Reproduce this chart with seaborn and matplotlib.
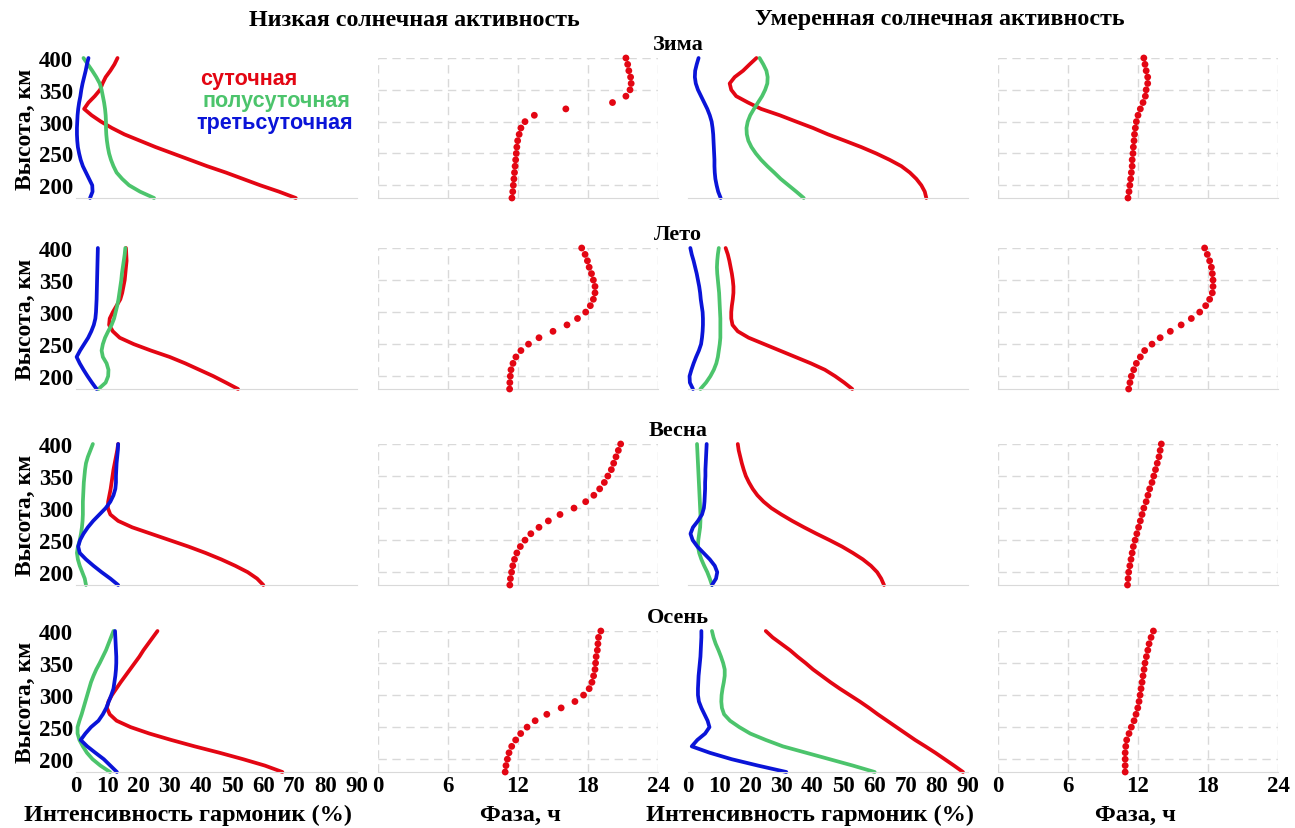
import pandas as pd
import seaborn as sns
import matplotlib.pyplot as plt

# высоты, км (шаг 10 км)
heights = list(range(180, 410, 10))

# ЗИМА - низкая активность
zima_low_sut = [70.4, 65, 59, 53.5, 48, 42, 36.5, 31, 25.5, 20.5, 15.5, 11.5, 8, 5, 2.6, 4, 6, 7.7, 8.5, 9.5, 11, 12.3, 13.3]
zima_low_polu = [25, 20.5, 17, 14.8, 13, 12, 11.2, 10.6, 10.2, 9.9, 9.7, 9.6, 9.6, 9.5, 9.3, 9, 8.6, 8.2, 7.6, 6.5, 5.2, 3.8, 2.4]
zima_low_tret = [4.5, 5.3, 5.2, 4.2, 3.2, 2.2, 1.5, 1, 0.6, 0.4, 0.3, 0.3, 0.4, 0.5, 0.7, 1, 1.4, 1.7, 2.1, 2.6, 3.1, 3.5, 4]
zima_low_faza = [11.48, 11.55, 11.6, 11.65, 11.7, 11.75, 11.8, 11.85, 11.9, 11.97, 12.1, 12.25, 12.6, 13.4, 16.1, 20.1, 21.25, 21.6, 21.7, 21.65, 21.5, 21.4, 21.25]
# ЗИМА - умеренная активность
zima_mod_sut = [76.6, 76.1, 75, 73.4, 71.3, 68.6, 64.8, 60.5, 55.7, 50.4, 45, 40.2, 34.8, 29.5, 23.5, 19.3, 15.5, 13.9, 13.4, 15, 17.7, 19.8, 22]
zima_mod_polu = [37.2, 34.8, 32.3, 29.8, 27.7, 25.5, 23.5, 21.8, 20.4, 19.4, 18.9, 18.8, 19.2, 20, 21.2, 22.5, 23.8, 24.8, 25.5, 25.6, 25.2, 24.2, 23]
zima_mod_tret = [10.5, 9.7, 9.2, 8.8, 8.6, 8.5, 8.5, 8.4, 8.3, 8.2, 8.1, 7.9, 7.6, 7, 6.2, 5.2, 4.2, 3.2, 2.5, 2.2, 2.3, 2.8, 3.4]
zima_mod_faza = [11.14, 11.23, 11.3, 11.37, 11.43, 11.5, 11.5, 11.57, 11.6, 11.66, 11.7, 11.77, 11.86, 12, 12.2, 12.43, 12.63, 12.7, 12.83, 12.83, 12.7, 12.6, 12.5]

# ЛЕТО - низкая активность
leto_low_sut = [51.9, 48, 44, 39.5, 35, 30, 24, 18.5, 14, 11.8, 10.6, 10.8, 11.8, 13, 14.2, 14.8, 15.2, 15.6, 15.8, 16, 16.2, 16.1, 16]
leto_low_polu = [7.2, 9.5, 10.3, 10.4, 9.8, 8.6, 8.2, 8.6, 9.3, 10.3, 11.4, 12.2, 12.7, 13.2, 13.6, 13.9, 14.2, 14.5, 14.7, 15, 15.3, 15.6, 15.8]
leto_low_tret = [6.6, 5.1, 3.7, 2.4, 1.2, 0.2, 1.3, 2.6, 3.9, 4.9, 5.7, 6.2, 6.4, 6.5, 6.6, 6.65, 6.7, 6.75, 6.8, 6.85, 6.9, 6.95, 7]
leto_low_faza = [11.28, 11.3, 11.34, 11.4, 11.57, 11.82, 12.25, 12.9, 13.8, 15, 16.2, 17.1, 17.8, 18.2, 18.46, 18.6, 18.6, 18.46, 18.3, 18.1, 17.95, 17.75, 17.46]
# ЛЕТО - умеренная активность
leto_mod_sut = [52.8, 50.2, 47.3, 44, 39.5, 34.5, 29.5, 24.5, 19.5, 16, 14.3, 13.9, 13.9, 14.1, 14.4, 14.6, 14.6, 14.4, 14.1, 13.7, 13.3, 12.8, 12.1]
leto_mod_polu = [4, 5.8, 7.2, 8.3, 9.1, 9.6, 9.9, 10.2, 10.4, 10.4, 10.4, 10.4, 10.3, 10.2, 10.1, 10, 9.8, 9.6, 9.4, 9.3, 9.4, 9.6, 9.9]
leto_mod_tret = [1.6, 0.6, 0.5, 1.1, 1.8, 2.6, 3.5, 4.2, 4.5, 4.7, 4.8, 4.8, 4.7, 4.4, 4.1, 3.9, 3.6, 3.2, 2.8, 2.3, 1.8, 1.2, 0.75]
leto_mod_faza = [11.2, 11.31, 11.43, 11.63, 11.86, 12.2, 12.57, 13.2, 13.9, 14.77, 15.7, 16.57, 17.29, 17.8, 18.14, 18.37, 18.43, 18.43, 18.37, 18.29, 18.14, 17.94, 17.71]

# ВЕСНА - низкая активность
vesna_low_sut = [60, 58, 55, 51, 46.5, 41.5, 36, 30, 24, 18, 13.5, 11, 10.2, 10.3, 10.7, 11.1, 11.4, 11.7, 12, 12.4, 12.8, 13.2, 13.5]
vesna_low_polu = [3.2, 2.8, 2, 1.2, 0.6, 0.3, 0.6, 1.2, 1.6, 1.9, 2.1, 2.2, 2.2, 2.2, 2.3, 2.4, 2.5, 2.7, 2.9, 3.2, 3.8, 4.6, 5.4]
vesna_low_tret = [13.5, 11, 8.2, 5.6, 3.2, 1.2, 0.7, 1.3, 2.4, 3.8, 5.5, 7.5, 9.5, 11, 12, 12.6, 12.8, 12.8, 12.9, 13, 13.2, 13.4, 13.5]
vesna_low_faza = [11.3, 11.35, 11.45, 11.55, 11.7, 11.9, 12.2, 12.6, 13.1, 13.8, 14.6, 15.6, 16.8, 17.8, 18.5, 19, 19.4, 19.7, 20, 20.2, 20.4, 20.6, 20.8]
# ВЕСНА - умеренная активность
vesna_mod_sut = [63, 62.1, 60.8, 58.8, 56.2, 53, 49.5, 45.5, 41.3, 37.3, 33.5, 30, 26.8, 24.3, 22.3, 20.8, 19.6, 18.6, 17.9, 17.3, 16.8, 16.3, 16]
vesna_mod_polu = [7.7, 7, 6.2, 5.2, 4.3, 3.6, 3.2, 3.3, 3.6, 3.9, 4, 4, 3.9, 3.8, 3.7, 3.6, 3.5, 3.4, 3.3, 3.2, 3.1, 3, 2.9]
vesna_mod_tret = [7.7, 9, 9.4, 8.6, 7, 5, 3, 1.5, 0.8, 1.6, 3.2, 4.5, 5.1, 5.3, 5.4, 5.5, 5.5, 5.6, 5.6, 5.7, 5.8, 5.9, 6]
vesna_mod_faza = [11.1, 11.15, 11.2, 11.3, 11.4, 11.5, 11.6, 11.75, 11.9, 12.05, 12.2, 12.35, 12.5, 12.7, 12.85, 13, 13.2, 13.35, 13.5, 13.65, 13.8, 13.9, 14]

# ОСЕНЬ - низкая активность
osen_low_sut = [66.1, 60.5, 53.5, 46, 38, 30.5, 23.5, 17.5, 13, 10.8, 9.9, 10.4, 11.5, 12.9, 14.3, 15.8, 17.3, 18.8, 20.3, 21.6, 23.1, 24.6, 26.1]
osen_low_polu = [10.9, 7.8, 5.3, 3.5, 2.2, 1.1, 0.5, 0.5, 1.1, 1.8, 2.4, 3, 3.6, 4.2, 4.8, 5.6, 6.5, 7.6, 8.6, 9.6, 10.4, 11.2, 12]
osen_low_tret = [13.1, 11, 8.9, 6.2, 3.6, 1.5, 3, 4.8, 7.2, 8.6, 9.7, 10.5, 11.3, 12, 12.3, 12.6, 12.8, 12.9, 12.9, 12.8, 12.7, 12.6, 12.5]
osen_low_faza = [10.9, 10.97, 11.09, 11.23, 11.46, 11.8, 12.23, 12.78, 13.47, 14.47, 15.7, 16.88, 17.62, 18.1, 18.34, 18.48, 18.6, 18.65, 18.7, 18.8, 18.85, 18.9, 19.1]
# ОСЕНЬ - умеренная активность
osen_mod_sut = [88.4, 85.5, 82.5, 79.5, 76.3, 73, 70, 67, 64, 61, 58.2, 55.2, 52, 48.8, 45.8, 43, 40.2, 37.8, 35.2, 32.8, 30, 27.2, 25]
osen_mod_polu = [60, 53, 45.5, 38, 30.5, 25, 20, 16.5, 13.5, 11.6, 10.9, 10.7, 10.8, 11.1, 11.5, 11.8, 11.8, 11.3, 10.6, 9.8, 8.9, 8.2, 7.7]
osen_mod_tret = [31.6, 22.5, 14, 7, 1.2, 3, 5.5, 6.9, 6.3, 5.3, 4.3, 3.5, 3.2, 3.2, 3.3, 3.4, 3.6, 3.8, 4, 4.1, 4.2, 4.3, 4.3]
osen_mod_faza = [10.9, 10.9, 10.9, 10.9, 10.95, 11.03, 11.23, 11.43, 11.66, 11.83, 11.98, 12.09, 12.18, 12.26, 12.35, 12.43, 12.52, 12.6, 12.72, 12.84, 12.95, 13.12, 13.32]

seasons = ['Зима', 'Лето', 'Весна', 'Осень']
harmonic_names = ['суточная', 'полусуточная', 'третьсуточная']
harmonic_colors = ['#e30613', '#4cc46c', '#0a14d8']
int_ticks = [0, 10, 20, 30, 40, 50, 60, 70, 80, 90]
phase_ticks = [0, 6, 12, 18, 24]
h_ticks = [200, 250, 300, 350, 400]

rows = [
    (zima_low_sut, zima_low_polu, zima_low_tret, zima_low_faza,
     zima_mod_sut, zima_mod_polu, zima_mod_tret, zima_mod_faza),
    (leto_low_sut, leto_low_polu, leto_low_tret, leto_low_faza,
     leto_mod_sut, leto_mod_polu, leto_mod_tret, leto_mod_faza),
    (vesna_low_sut, vesna_low_polu, vesna_low_tret, vesna_low_faza,
     vesna_mod_sut, vesna_mod_polu, vesna_mod_tret, vesna_mod_faza),
    (osen_low_sut, osen_low_polu, osen_low_tret, osen_low_faza,
     osen_mod_sut, osen_mod_polu, osen_mod_tret, osen_mod_faza),
]

sns.set_style('white')
plt.rcParams['font.family'] = ['Liberation Serif', 'DejaVu Serif']
plt.rcParams['font.weight'] = 'bold'
plt.rcParams['text.color'] = 'black'
plt.rcParams['axes.labelcolor'] = 'black'
plt.rcParams['xtick.color'] = 'black'
plt.rcParams['ytick.color'] = 'black'

W, H = 1295, 829
fig = plt.figure(figsize=(W / 100, H / 100), dpi=100)

col_x = [(76, 357), (378, 658), (688, 968), (998, 1278)]
row_y = [(59, 199), (249, 390), (445, 586), (632, 773)]
tick_font = dict(family='Liberation Serif', weight='bold', size=16.5)


def make_ax(c, r):
    x0, x1 = col_x[c]
    y0, y1 = row_y[r]
    return fig.add_axes([x0 / W, 1 - y1 / H, (x1 - x0) / W, (y1 - y0) / H])


for r, data in enumerate(rows):
    for block in range(2):
        sut, polu, tret, faza = data[block * 4: block * 4 + 4]

        # интенсивность гармоник
        ax = make_ax(block * 2, r)
        for vals, col in zip([sut, polu, tret], harmonic_colors):
            df = pd.DataFrame({'x': vals, 'h': heights})
            sns.lineplot(data=df, x='x', y='h', sort=False, estimator=None,
                         color=col, lw=2.7, ax=ax)
        for ln in ax.lines:
            ln.set_clip_on(False)
        ax.set_xlim(0, 90)
        ax.set_ylim(180, 400)
        ax.set_xticks(int_ticks)
        ax.set_yticks(h_ticks)
        for s in ['top', 'right', 'left']:
            ax.spines[s].set_visible(False)
        ax.spines['bottom'].set_color('#d9d9d9')
        ax.tick_params(length=0, pad=2)

        # фаза
        axp = make_ax(block * 2 + 1, r)
        dfp = pd.DataFrame({'faza': faza, 'h': heights})
        sns.scatterplot(data=dfp, x='faza', y='h', color='#e30613', s=24,
                        edgecolor='none', ax=axp, clip_on=False, zorder=3)
        axp.set_xlim(0, 24)
        axp.set_ylim(180, 400)
        axp.set_xticks(phase_ticks)
        axp.set_yticks(h_ticks)
        axp.grid(True, ls=(0, (6, 4)), color='#d9d9d9', lw=1)
        for s in ['top', 'right', 'left']:
            axp.spines[s].set_visible(False)
        axp.spines['bottom'].set_color('#d9d9d9')
        axp.tick_params(length=0, pad=2)
        axp.set_yticklabels([])

        for a in (ax, axp):
            a.set_xlabel('')
            a.set_ylabel('')
            if r < 3:
                a.set_xticklabels([])
            else:
                a.set_xticklabels([str(t) for t in a.get_xticks()], fontdict=tick_font)

        if block == 0:
            ax.set_yticklabels([str(t) for t in h_ticks], fontdict=tick_font)
            ax.set_ylabel('Высота, км', fontdict=dict(tick_font, size=17), labelpad=2)
        else:
            ax.set_yticklabels([])

    fig.text(678 / W, 1 - (row_y[r][0] - 14) / H, seasons[r], ha='center',
             va='center', fontsize=16, fontweight='bold')

# легенда
leg_pos = [(200, 80), (203, 102), (196, 124)]
for name, col, (px, py) in zip(harmonic_names, harmonic_colors, leg_pos):
    fig.text(px / W, 1 - py / H, name, color=col, fontsize=15.5, fontweight='bold',
             family='Liberation Sans', ha='left', va='center')

# заголовки
fig.text(414 / W, 1 - 20 / H, 'Низкая солнечная активность', ha='center',
         va='center', fontsize=17.3, fontweight='bold')
fig.text(940 / W, 1 - 20 / H, 'Умеренная солнечная активность', ha='center',
         va='center', fontsize=17.3, fontweight='bold')

# подписи осей
fig.text(188 / W, 1 - 815 / H, 'Интенсивность гармоник (%)', ha='center',
         va='center', fontsize=17.5, fontweight='bold')
fig.text(520 / W, 1 - 815 / H, 'Фаза, ч', ha='center', va='center',
         fontsize=17.5, fontweight='bold')
fig.text(810 / W, 1 - 815 / H, 'Интенсивность гармоник (%)', ha='center',
         va='center', fontsize=17.5, fontweight='bold')
fig.text(1135 / W, 1 - 815 / H, 'Фаза, ч', ha='center', va='center',
         fontsize=17.5, fontweight='bold')

fig.savefig('out.png', dpi=100, facecolor='white')
